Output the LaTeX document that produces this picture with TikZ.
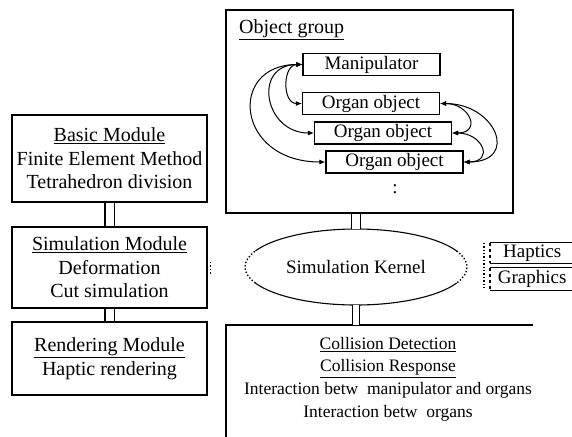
\documentclass[tikz,border=0pt]{standalone}
\usepackage{fontspec}
\setmainfont{Liberation Serif}
\usetikzlibrary{arrows.meta,shapes.geometric}
\tikzset{
  modbox/.style={draw, line width=1.1pt, minimum width=195pt, align=center, inner sep=0pt, font=\fontsize{20}{23.5}\selectfont},
  objbox/.style={draw, line width=1.1pt, minimum width=137pt, minimum height=22pt, inner sep=0pt},
  link/.style={line width=1pt, {Latex[length=6pt,width=5pt]}-{Latex[length=6pt,width=5pt]}},
  dbl/.style={double, double distance=8pt, line width=1.1pt},
  frame/.style={line width=1.1pt},
  faint/.style={line width=1.4pt, dotted},
}
\begin{document}
\begin{tikzpicture}[x=1pt,y=-1pt,font=\fontsize{19}{23}\selectfont]
\useasboundingbox (0,0) rectangle (572,436);
\clip (0,0) rectangle (572,436);
% left column
\node[modbox, minimum height=87pt] (basic) at (109.5,158.5)
  {\underline{Basic Module}\\Finite Element Method\\Tetrahedron division};
\node[modbox, minimum height=81pt] (simmod) at (109.5,267.5)
  {\underline{Simulation Module}\\Deformation\\Cut simulation};
\node[modbox, minimum height=73pt] (render) at (109.5,358.5)
  {\underline{Rendering Module}\\Haptic rendering};
\draw[dbl] (basic.south) -- (simmod.north);
\draw[dbl] (simmod.south) -- (render.north);
% object group
\node[draw, line width=1.1pt, minimum width=287pt, minimum height=203pt, inner sep=0pt] (objgroup) at (369.5,111.5) {};
\node[anchor=west, inner sep=0pt, font=\fontsize{20}{23}\selectfont] (objlabel) at (239,30) {\underline{Object group}};
\node[objbox] (manip) at (371.5,64.5) {Manipulator};
\node[objbox] (organA) at (371,103.5) {Organ object};
\node[objbox] (organB) at (383,133) {Organ object};
\node[objbox] (organC) at (394.5,162) {Organ object};
\node[inner sep=0pt] (vdots) at (395,189) {:};
\draw[link] (manip.west) .. controls +(-20,0) and +(-20,0) .. (organA.west);
\draw[link] (manip.west) .. controls +(-50,0) and +(-50,0) .. (organB.west);
\draw[link] (manip.west) .. controls +(-75,0) and +(-90,0) .. (organC.west);
\draw[link] (organA.east) .. controls +(30,0) and +(30,0) .. (organB.east);
\draw[link] (organB.east) .. controls +(31,0) and +(31,0) .. (organC.east);
\draw[link] (organA.east) .. controls +(56,0) and +(56,0) .. (organC.east);
% kernel
\node[ellipse, minimum width=222pt, minimum height=76pt, inner sep=0pt] (kernel) at (356,267) {Simulation Kernel};
\draw[frame] (kernel.center) ++(155:111 and 38) arc[start angle=155, end angle=25, x radius=111, y radius=38];
\draw[frame] (kernel.center) ++(205:111 and 38) arc[start angle=205, end angle=335, x radius=111, y radius=38];
\draw[faint] (kernel.center) ++(155:111 and 38) arc[start angle=155, end angle=205, x radius=111, y radius=38];
\draw[faint] (kernel.center) ++(-25:111 and 38) arc[start angle=-25, end angle=25, x radius=111, y radius=38];
\draw[dbl] (objgroup.south -| kernel.north) -- (kernel.north);
% haptics / graphics
\node[minimum width=90pt, minimum height=20pt, inner sep=0pt, anchor=west] (haptics) at (490,253) {\hspace*{-6pt}Haptics};
\node[minimum width=90pt, minimum height=22pt, inner sep=0pt, anchor=west] (graphics) at (490,279) {\hspace*{-6pt}Graphics};
\draw[frame] (haptics.north east) -- (haptics.north west);
\draw[frame] (haptics.south west) -- (haptics.south east);
\draw[frame, dashed] (haptics.north west) -- (haptics.south west);
\draw[frame] (graphics.north east) -- (graphics.north west);
\draw[frame] (graphics.south west) -- (graphics.south east);
\draw[frame, dashed] (graphics.north west) -- (graphics.south west);
\draw[faint] ([xshift=-6pt]haptics.north west) -- ([xshift=-6pt]graphics.south west);
\draw[faint] ([xshift=3pt,yshift=-6pt]simmod.east) -- ([xshift=3pt,yshift=6pt]simmod.east);
% collision
\coordinate (cbTL) at (226,325);
\draw[frame] (226,440) -- (cbTL) -- (533,325);
\node[align=center, inner sep=0pt, font=\fontsize{17.5}{22.7}\selectfont] (collision) at (388,379)
  {\underline{Collision Detection}\\\underline{Collision Response}\\Interaction betw\ \ manipulator and organs\\Interaction betw\ \ organs};
\draw[dbl, double distance=6pt] (kernel.south) -- (kernel.south |- cbTL);
\end{tikzpicture}
\end{document}
